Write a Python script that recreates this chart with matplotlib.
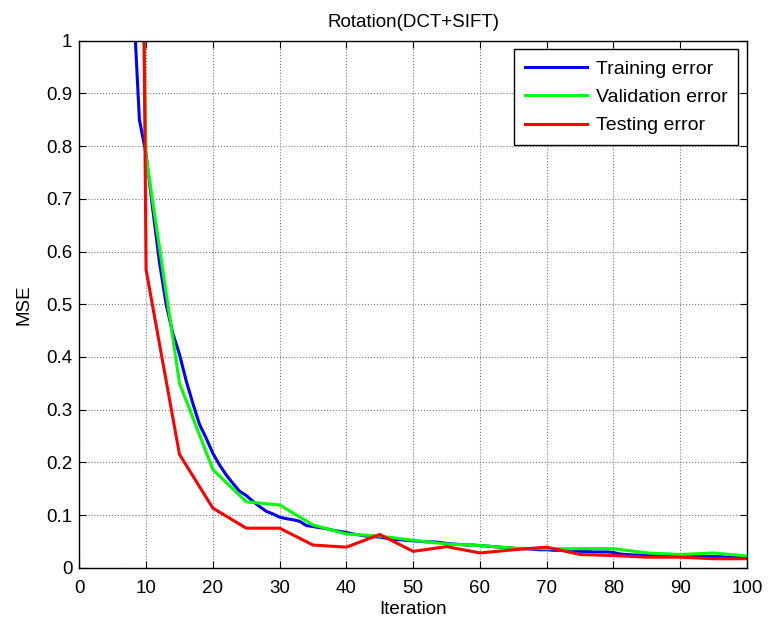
import matplotlib
matplotlib.use("Agg")
import matplotlib.pyplot as plt

plt.rcParams['font.family'] = ['Liberation Sans', 'DejaVu Sans']

# Training error, recorded every iteration
train_iter = list(range(8, 101))
train_err = [
    1.10, 0.85, 0.785, 0.68, 0.58, 0.50, 0.445, 0.405, 0.355, 0.312,
    0.272, 0.246, 0.217, 0.195, 0.176, 0.160, 0.145, 0.137, 0.126, 0.116,
    0.107, 0.102, 0.096, 0.093, 0.091, 0.088, 0.080, 0.078, 0.076, 0.074,
    0.071, 0.069, 0.067, 0.064, 0.062, 0.060, 0.059, 0.058, 0.056, 0.054,
    0.053, 0.052, 0.051, 0.050, 0.049, 0.049, 0.048, 0.046, 0.045, 0.044,
    0.043, 0.043, 0.042, 0.041, 0.040, 0.039, 0.038, 0.037, 0.036, 0.036,
    0.035, 0.034, 0.034, 0.033, 0.033, 0.032, 0.032, 0.031, 0.031, 0.030,
    0.030, 0.030, 0.029, 0.026, 0.025, 0.024, 0.024, 0.023, 0.023, 0.022,
    0.022, 0.022, 0.022, 0.022, 0.021, 0.021, 0.021, 0.021, 0.021, 0.020,
    0.020, 0.020, 0.020,
]

# Validation and testing errors, checked every 5 iterations
check_iter = list(range(5, 101, 5))
val_err = [4.45, 0.78, 0.35, 0.186, 0.125, 0.119, 0.081, 0.064, 0.060, 0.052,
           0.045, 0.042, 0.037, 0.036, 0.036, 0.036, 0.028, 0.025, 0.028, 0.022]
test_err = [7.8, 0.565, 0.215, 0.113, 0.075, 0.075, 0.043, 0.039, 0.063, 0.031,
            0.040, 0.028, 0.034, 0.039, 0.025, 0.023, 0.020, 0.020, 0.017, 0.017]

x_ticks = list(range(0, 101, 10))
y_ticks = [0, 0.1, 0.2, 0.3, 0.4, 0.5, 0.6, 0.7, 0.8, 0.9, 1]
y_tick_labels = ['0', '0.1', '0.2', '0.3', '0.4', '0.5', '0.6', '0.7', '0.8', '0.9', '1']

W, H = 769, 626
fig = plt.figure(figsize=(W / 100, H / 100), dpi=100)
ax = fig.add_axes([79.3 / W, 1 - 567.7 / H, 667.7 / W, 527 / H])

lw = 2.2
ax.plot(train_iter, train_err, color='#0000ff', lw=lw, label='Training error')
ax.plot(check_iter, val_err, color='#00ff00', lw=lw, label='Validation error')
ax.plot(check_iter, test_err, color='#ff0000', lw=lw, label='Testing error')

fs = 13.5
ax.set_xlim(0, 100)
ax.set_ylim(0, 1)
ax.set_xticks(x_ticks)
ax.set_yticks(y_ticks)
ax.set_yticklabels(y_tick_labels)
ax.tick_params(direction='in', top=True, right=True, length=5, width=0.8,
               labelsize=fs, colors='black')
ax.tick_params(axis='x', pad=9)
ax.tick_params(axis='y', pad=5)
ax.grid(True, linestyle=':', color='#777777', linewidth=0.8)
for s in ax.spines.values():
    s.set_linewidth(1.0)
    s.set_color('black')

ax.set_title('Rotation(DCT+SIFT)', fontsize=fs, pad=10)
ax.set_xlabel('Iteration', fontsize=fs, labelpad=3)
ax.set_ylabel('MSE', fontsize=fs, labelpad=10)

leg = ax.legend(loc='upper right', fontsize=14, frameon=True, fancybox=False,
                edgecolor='black', framealpha=1, handlelength=3.2,
                borderaxespad=0.45, labelspacing=0.55, handletextpad=0.45,
                borderpad=0.55)
leg.get_frame().set_linewidth(1.0)

fig.savefig('out.png', dpi=100)
